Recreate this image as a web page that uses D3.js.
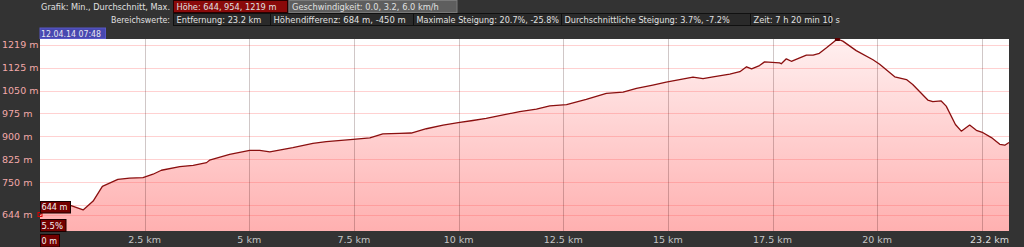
<!DOCTYPE html>
<html>
<head>
<meta charset="utf-8">
<script src="https://cdn.jsdelivr.net/npm/d3@7"></script>
<style>
  html, body { margin: 0; padding: 0; background: #333; }
  svg { display: block; font-family: "DejaVu Sans", sans-serif; }
  .cond { font-family: "DejaVu Sans Condensed", "DejaVu Sans", sans-serif; }
</style>
</head>
<body>
<svg id="chart" width="1024" height="247"></svg>
<script>
// distance (km) / elevation (m)
var distKm = [0, 0.18, 0.71, 1.03, 1.27, 1.49, 1.86, 2.14, 2.46, 2.70, 2.90, 3.34, 3.66, 3.98, 4.05, 4.53,
	5.01, 5.25, 5.49, 6.04, 6.52, 6.84, 7.48, 7.88, 8.19, 8.59, 8.87, 9.23, 9.63, 9.99, 10.34, 10.66,
	10.98, 11.46, 11.86, 12.18, 12.58, 13.05, 13.53, 13.93, 14.25, 14.64, 14.96, 15.28, 15.60, 15.84,
	16.08, 16.48, 16.72, 16.88, 17.00, 17.19, 17.31, 17.67, 17.71, 17.83, 17.95, 18.15, 18.31, 18.47,
	18.62, 18.79, 19.05, 19.18, 19.50, 19.90, 20.06, 20.42, 20.70, 20.85, 21.21, 21.33, 21.53, 21.65,
	21.87, 22.01, 22.21, 22.37, 22.53, 22.73, 22.93, 23.05, 23.15];
var elevM = [644, 671, 675, 659, 688, 736, 759, 763, 765, 776, 789, 801, 805, 814, 822, 841,
	854, 854, 849, 863, 877, 883, 890, 895, 908, 910, 911, 925, 937, 945, 952, 959,
	968, 981, 989, 1000, 1004, 1021, 1041, 1045, 1057, 1068, 1078, 1086, 1094, 1089,
	1095, 1104, 1112, 1128, 1121, 1132, 1144, 1141, 1138, 1154, 1146, 1157, 1166, 1166,
	1172, 1190, 1219, 1212, 1181, 1151, 1136, 1095, 1086, 1070, 1019, 1014, 1016, 999,
	939, 917, 937, 920, 912, 896, 874, 871, 880];

var xTicks = [2.5, 5, 7.5, 10, 12.5, 15, 17.5, 20, 22.5];
var xTickLabels = ['2.5 km', '5 km', '7.5 km', '10 km', '12.5 km', '15 km', '17.5 km', '20 km', ''];
var yTicks = [1200, 1125, 1050, 975, 900, 825, 750, 675, 644];
var yTickLabels = ['1219 m', '1125 m', '1050 m', '975 m', '900 m', '825 m', '750 m', '', '644 m'];

var headRow1 = [
	{text: 'Höhe: 644, 954, 1219 m', kind: 'red'},
	{text: 'Geschwindigkeit: 0.0, 3.2, 6.0 km/h', kind: 'grey'}
];
var headRow2 = [
	{text: 'Entfernung: 23.2 km', kind: 'dark'},
	{text: 'Höhendifferenz: 684 m, -450 m', kind: 'dark'},
	{text: 'Maximale Steigung: 20.7%, -25.8%', kind: 'dark'},
	{text: 'Durchschnittliche Steigung: 3.7%, -7.2%', kind: 'dark'},
	{text: 'Zeit: 7 h 20 min 10 s', kind: 'dark'}
];

var data = distKm.map(function(d, i) { return {x: d, y: elevM[i]}; });

var svg = d3.select('#chart');
var L = 40, R = 1009, T = 39, B = 231;

var x = d3.scaleLinear().domain([0, 23.15]).range([L, R]);
var y = d3.scaleLinear().domain([590, 1219]).range([B, T]);

// shrink a text's font until its natural width is the wanted one
function fit(sel, w, base) {
	sel.attr('class', 'cond').attr('font-size', base);
	var n = sel.node().getComputedTextLength();
	if (n > 0) sel.attr('font-size', Math.min(10, base * w / n).toFixed(2));
	return sel;
}

svg.append('rect').attr('width', 1024).attr('height', 247).attr('fill', '#333');

// plot background
svg.append('rect')
	.attr('x', L).attr('y', T).attr('width', R - L).attr('height', B - T)
	.attr('fill', '#fff');

var grad = svg.append('defs').append('linearGradient')
	.attr('id', 'fillGrad')
	.attr('gradientUnits', 'userSpaceOnUse')
	.attr('x1', 0).attr('y1', T).attr('x2', 0).attr('y2', B);
grad.append('stop').attr('offset', '0').attr('stop-color', '#fff0f0');
grad.append('stop').attr('offset', '1').attr('stop-color', '#ffb0b0');

var area = d3.area()
	.x(function(d) { return x(d.x); })
	.y0(B)
	.y1(function(d) { return y(d.y); });
var line = d3.line()
	.x(function(d) { return x(d.x); })
	.y(function(d) { return y(d.y); });

svg.append('path').datum(data).attr('d', area).attr('fill', 'url(#fillGrad)');

// grid over the fill
svg.append('g').selectAll('line').data(yTicks).enter().append('line')
	.attr('x1', L).attr('x2', R)
	.attr('y1', function(d) { return Math.round(y(d)) + 0.5; })
	.attr('y2', function(d) { return Math.round(y(d)) + 0.5; })
	.attr('stroke', 'rgba(255,90,90,0.28)');
svg.append('g').selectAll('line').data(xTicks).enter().append('line')
	.attr('y1', T).attr('y2', B)
	.attr('x1', function(d) { return Math.round(x(d)) + 0.5; })
	.attr('x2', function(d) { return Math.round(x(d)) + 0.5; })
	.attr('stroke', 'rgba(40,0,0,0.22)');

svg.append('path').datum(data).attr('d', line)
	.attr('fill', 'none').attr('stroke', '#8a0f0f').attr('stroke-width', 1.3)
	.attr('stroke-linejoin', 'round');

// y labels
svg.append('g').selectAll('text').data(yTicks).enter().append('text')
	.attr('x', 2)
	.attr('y', function(d) { return y(d) + 3.5; })
	.attr('font-size', 9.5)
	.attr('fill', '#f2a9a9')
	.text(function(d, i) { return yTickLabels[i]; });

// x labels
svg.append('g').selectAll('text').data(xTicks).enter().append('text')
	.attr('x', function(d) { return x(d); })
	.attr('y', 243)
	.attr('text-anchor', 'middle')
	.attr('font-size', 9.5)
	.attr('fill', '#c4c4c4')
	.text(function(d, i) { return xTickLabels[i]; });
svg.append('text')
	.attr('x', R).attr('y', 243).attr('text-anchor', 'end')
	.attr('font-size', 9.5).attr('fill', '#dcdcdc')
	.text('23.2 km');

// min / max markers
var iMin = d3.minIndex(elevM), iMax = d3.maxIndex(elevM);
svg.append('rect')
	.attr('x', x(distKm[iMin]) - 2).attr('y', y(elevM[iMin]) - 2)
	.attr('width', 4).attr('height', 4)
	.attr('fill', 'none').attr('stroke', '#e00000');
svg.append('rect')
	.attr('x', x(distKm[iMax]) - 2.5).attr('y', y(elevM[iMax]) - 1)
	.attr('width', 5).attr('height', 3)
	.attr('fill', '#5a0000');

// small labelled boxes on the plot
function tag(x0, y0, w, h, txt, tw) {
	svg.append('rect').attr('x', x0 + 0.5).attr('y', y0 + 0.5).attr('width', w).attr('height', h)
		.attr('fill', '#720000').attr('stroke', '#1a0000');
	fit(svg.append('text').attr('x', x0 + 1.5).attr('y', y0 + h - 2.5)
		.attr('fill', '#f2f2f2').text(txt), tw, 9.5);
}
tag(L, 201, 30, 11.5, elevM[iMin] + ' m', 26);
tag(L, 219, 25.5, 12, '5.5%', 21.5);
tag(L, 234, 19, 12.5, '0 m', 15.5);

// date box
svg.append('rect').attr('x', 40).attr('y', 28).attr('width', 65.5).attr('height', 10.5)
	.attr('fill', '#4848b0').attr('stroke', '#5858c8');
fit(svg.append('text').attr('x', 41).attr('y', 36.8)
	.attr('fill', '#e6e6f0').text('12.04.14 07:48'), 60, 9);

// header
var boxStyle = {
	red: {fill: '#8a0a0a', stroke: '#2a0000'},
	grey: {fill: '#5e5e5e', stroke: '#7a7a7a'},
	dark: {fill: '#2a2a2a', stroke: '#101010'}
};
var row1X = [173.5, 289], row1W = [114, 168], row1T = [100, 147];
var row2X = [173.5, 270.5, 413.5, 561.5, 750.5], row2W = [97, 143, 148, 189, 80], row2T = [85, 132.5, 142.5, 165.5, 86.5];

function headRow(items, xs, ws, ts, top, base) {
	items.forEach(function(it, i) {
		var s = boxStyle[it.kind];
		svg.append('rect').attr('x', xs[i]).attr('y', top).attr('width', ws[i]).attr('height', 12)
			.attr('fill', s.fill).attr('stroke', s.stroke);
		fit(svg.append('text').attr('x', xs[i] + 3).attr('y', base)
			.attr('fill', '#e0e0e0').text(it.text), ts[i], 9.5);
	});
}
fit(svg.append('text').attr('x', 170).attr('y', 10).attr('text-anchor', 'end')
	.attr('fill', '#e0e0e0').text('Grafik: Min., Durchschnitt, Max.'), 129, 9.5);
fit(svg.append('text').attr('x', 170).attr('y', 22.5).attr('text-anchor', 'end')
	.attr('fill', '#e0e0e0').text('Bereichswerte:'), 59, 9.5);
headRow(headRow1, row1X, row1W, row1T, 0.5, 10);
headRow(headRow2, row2X, row2W, row2T, 13.5, 22.5);
</script>
</body>
</html>
